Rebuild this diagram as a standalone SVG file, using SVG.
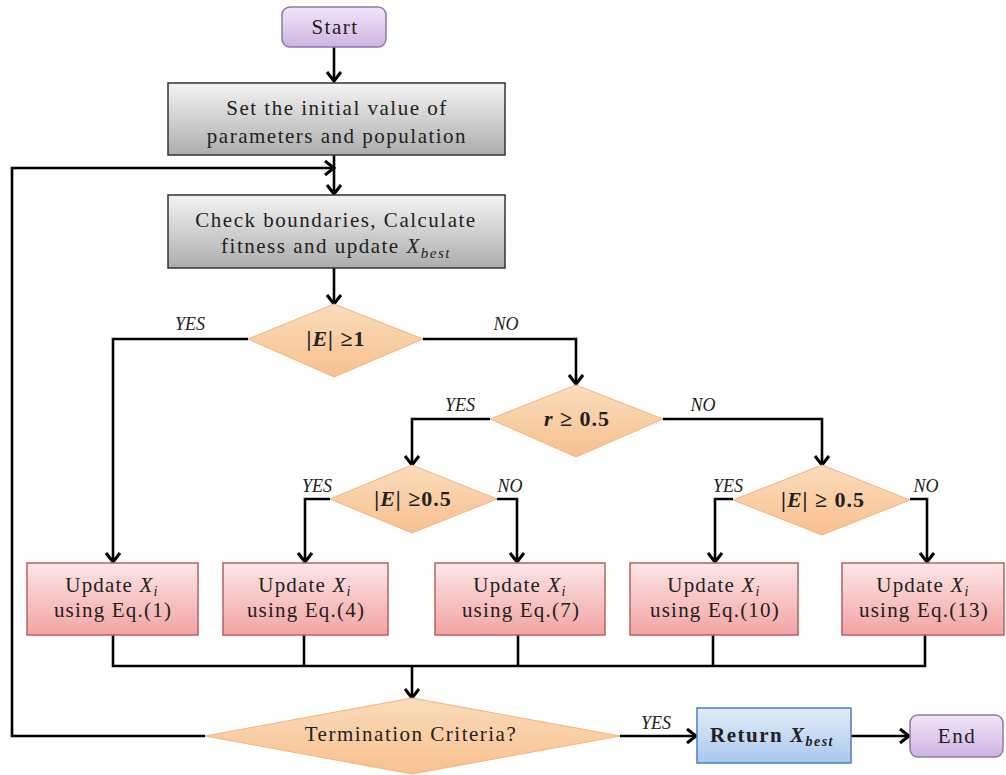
<svg xmlns="http://www.w3.org/2000/svg" width="1006" height="775" viewBox="0 0 1006 775">
<defs>
<linearGradient id="gPurple" x1="0" y1="0" x2="0" y2="1"><stop offset="0" stop-color="#f1e6f8"/><stop offset="1" stop-color="#cdb4e2"/></linearGradient>
<linearGradient id="gGrey" x1="0" y1="0" x2="0" y2="1"><stop offset="0" stop-color="#f4f4f4"/><stop offset="1" stop-color="#adadad"/></linearGradient>
<linearGradient id="gOrange" x1="0" y1="0" x2="0" y2="1"><stop offset="0" stop-color="#fbdcbd"/><stop offset="1" stop-color="#f8c08e"/></linearGradient>
<linearGradient id="gPink" x1="0" y1="0" x2="0" y2="1"><stop offset="0" stop-color="#fde6e6"/><stop offset="1" stop-color="#f2a4a4"/></linearGradient>
<linearGradient id="gBlue" x1="0" y1="0" x2="0" y2="1"><stop offset="0" stop-color="#e2edf9"/><stop offset="1" stop-color="#a9c8ee"/></linearGradient>
<marker id="arr" markerUnits="userSpaceOnUse" markerWidth="20" markerHeight="20" viewBox="0 0 20 20" refX="17" refY="10" orient="auto">
<path d="M8,3 L17,10 L8,17" fill="none" stroke="#000" stroke-width="3"/>
</marker>
<style>
.ln{fill:none;stroke:#000;stroke-width:2.6}
.t{font-family:"Liberation Serif",serif;font-size:21px;letter-spacing:1.5px;fill:#222;text-anchor:middle}
.u{font-family:"Liberation Serif",serif;font-size:21px;letter-spacing:1.2px;fill:#222;text-anchor:middle}
.lb{font-family:"Liberation Serif",serif;font-size:18px;font-style:italic;fill:#222;text-anchor:middle}
.cond{font-family:"Liberation Serif",serif;font-size:22px;letter-spacing:1px;font-weight:bold;fill:#222;text-anchor:middle}
.purple{fill:url(#gPurple);stroke:#8f77ab;stroke-width:1.5}
.grey{fill:url(#gGrey);stroke:#333;stroke-width:1.5}
.dia{fill:url(#gOrange);stroke:#f2b47c;stroke-width:1}
.pink{fill:url(#gPink);stroke:#b86060;stroke-width:1.5}
.blue{fill:url(#gBlue);stroke:#4f7fbd;stroke-width:1.5}
</style>
</defs>
<rect width="1006" height="775" fill="#fff"/>

<g id="connectors">
<line class="ln" x1="334" y1="47" x2="334" y2="81" marker-end="url(#arr)"/>
<line class="ln" x1="334" y1="155" x2="334" y2="194" marker-end="url(#arr)"/>
<polyline class="ln" points="205,736 12,736 12,168 334,168" marker-end="url(#arr)"/>
<line class="ln" x1="334" y1="268" x2="334" y2="304" marker-end="url(#arr)"/>
<polyline class="ln" points="248,339 113,339 113,562" marker-end="url(#arr)"/>
<polyline class="ln" points="423,339 576,339 576,384" marker-end="url(#arr)"/>
<polyline class="ln" points="490,419 412,419 412,465" marker-end="url(#arr)"/>
<polyline class="ln" points="663,419 822,419 822,465" marker-end="url(#arr)"/>
<polyline class="ln" points="330,499 305,499 305,562" marker-end="url(#arr)"/>
<polyline class="ln" points="497,499 517,499 517,562" marker-end="url(#arr)"/>
<polyline class="ln" points="733,499 715,499 715,562" marker-end="url(#arr)"/>
<polyline class="ln" points="910,499 927,499 927,562" marker-end="url(#arr)"/>
<polyline class="ln" points="113,635 113,666 925,666 925,635"/>
<line class="ln" x1="304" y1="635" x2="304" y2="666"/>
<line class="ln" x1="518" y1="635" x2="518" y2="666"/>
<line class="ln" x1="713" y1="635" x2="713" y2="666"/>
<line class="ln" x1="412" y1="666" x2="412" y2="698" marker-end="url(#arr)"/>
<line class="ln" x1="620" y1="736" x2="696" y2="736" marker-end="url(#arr)"/>
<line class="ln" x1="851" y1="736" x2="909" y2="736" marker-end="url(#arr)"/>
<text class="lb" x="190" y="330">YES</text>
<text class="lb" x="506" y="330">NO</text>
<text class="lb" x="460" y="411">YES</text>
<text class="lb" x="703" y="411">NO</text>
<text class="lb" x="317" y="492">YES</text>
<text class="lb" x="510" y="492">NO</text>
<text class="lb" x="728" y="492">YES</text>
<text class="lb" x="926" y="492">NO</text>
<text class="lb" x="656" y="729">YES</text>
</g>

<g id="start">
<rect class="purple" x="282" y="7" width="104" height="40" rx="8"/>
<text class="t" x="335" y="34" letter-spacing="0.8">Start</text>
</g>
<g id="init">
<rect class="grey" x="168" y="83" width="337" height="72"/>
<text class="t" x="337" y="115">Set the initial value of</text>
<text class="t" x="337" y="143">parameters and population</text>
</g>
<g id="check">
<rect class="grey" x="168" y="195" width="337" height="73"/>
<text class="t" x="336" y="227">Check boundaries, Calculate</text>
<text class="t" x="336" y="253">fitness and update <tspan font-style="italic">X</tspan><tspan font-style="italic" font-size="15" dy="5">best</tspan></text>
</g>
<g id="d1">
<polygon class="dia" points="334,304 423,339 334,377 248,339"/>
<text class="cond" x="336" y="346">|<tspan font-style="italic">E</tspan>| ≥1</text>
</g>
<g id="d2">
<polygon class="dia" points="576,385 663,419 576,457 490,419"/>
<text class="cond" x="577" y="426"><tspan font-style="italic">r</tspan> ≥ 0.5</text>
</g>
<g id="d3">
<polygon class="dia" points="412,465 497,499 412,533 330,499"/>
<text class="cond" x="413" y="506">|<tspan font-style="italic">E</tspan>| ≥0.5</text>
</g>
<g id="d4">
<polygon class="dia" points="822,465 910,500 822,535 733,500"/>
<text class="cond" x="823" y="507">|<tspan font-style="italic">E</tspan>| ≥ 0.5</text>
</g>
<g id="u1">
<rect class="pink" x="27" y="563" width="171" height="72"/>
<text class="u" x="112" y="592">Update <tspan font-style="italic">X</tspan><tspan font-style="italic" font-size="14" dy="4">i</tspan></text>
<text class="u" x="113" y="617">using Eq.(1)</text>
</g>
<g id="u2">
<rect class="pink" x="223" y="563" width="165" height="72"/>
<text class="u" x="305" y="592">Update <tspan font-style="italic">X</tspan><tspan font-style="italic" font-size="14" dy="4">i</tspan></text>
<text class="u" x="306" y="617">using Eq.(4)</text>
</g>
<g id="u3">
<rect class="pink" x="435" y="563" width="170" height="72"/>
<text class="u" x="520" y="592">Update <tspan font-style="italic">X</tspan><tspan font-style="italic" font-size="14" dy="4">i</tspan></text>
<text class="u" x="521" y="617">using Eq.(7)</text>
</g>
<g id="u4">
<rect class="pink" x="630" y="563" width="168" height="72"/>
<text class="u" x="714" y="592">Update <tspan font-style="italic">X</tspan><tspan font-style="italic" font-size="14" dy="4">i</tspan></text>
<text class="u" x="715" y="617">using Eq.(10)</text>
</g>
<g id="u5">
<rect class="pink" x="842" y="563" width="162" height="72"/>
<text class="u" x="923" y="592">Update <tspan font-style="italic">X</tspan><tspan font-style="italic" font-size="14" dy="4">i</tspan></text>
<text class="u" x="924" y="617">using Eq.(13)</text>
</g>
<g id="term">
<polygon class="dia" points="412,698 620,736 412,774 205,736"/>
<text class="t" x="411" y="741" font-size="20" letter-spacing="0.5">Termination Criteria?</text>
</g>
<g id="ret">
<rect class="blue" x="697" y="708" width="154" height="55"/>
<text class="t" x="772" y="742" font-size="20" letter-spacing="0" font-weight="bold">Return <tspan font-style="italic">X</tspan><tspan font-style="italic" font-size="14" dy="4">best</tspan></text>
</g>
<g id="end">
<rect class="purple" x="910" y="715" width="93" height="42" rx="8"/>
<text class="t" x="957" y="743" letter-spacing="0.8">End</text>
</g>
</svg>
